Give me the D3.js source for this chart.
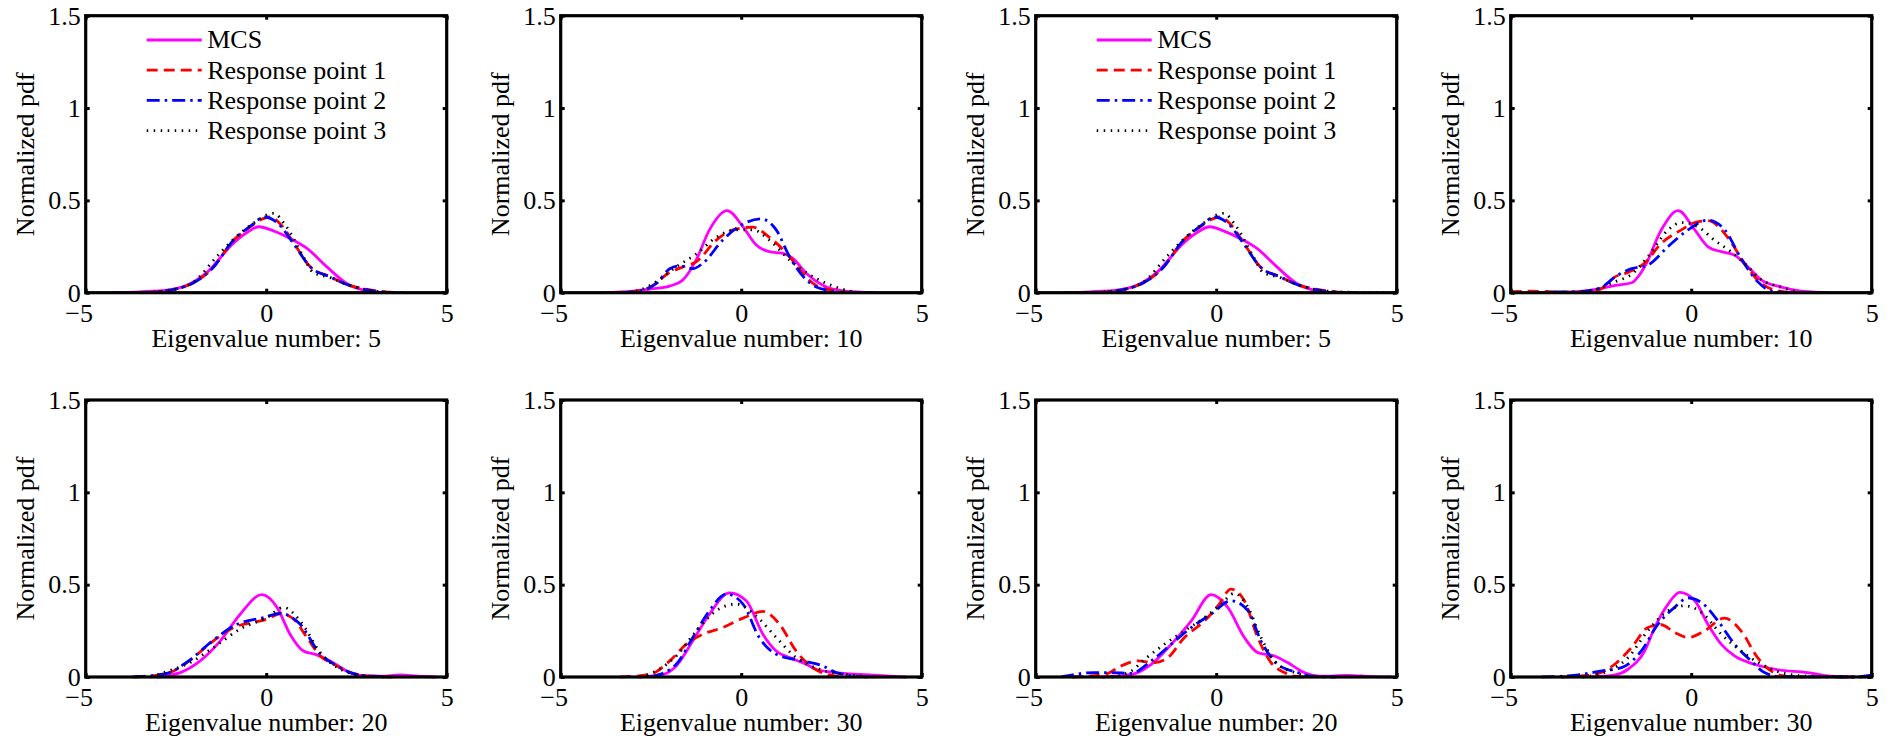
<!DOCTYPE html>
<html>
<head>
<meta charset="utf-8">
<script src="https://cdn.jsdelivr.net/npm/d3@7"></script>
<style>
  body { margin: 0; background: #fff; }
</style>
</head>
<body>
<script>
// axis settings
const xDomain = [-5, 5];
const yDomain = [0, 1.5];
const xTicks = [-5, 0, 5];
const yTicks = [0, 0.5, 1, 1.5];

const seriesNames = ['MCS', 'Response point 1', 'Response point 2', 'Response point 3'];
const eigenvalueNumbers = [5, 10, 5, 10, 20, 30, 20, 30];
const legendPanels = [0, 2];

// panel 1 - eigenvalue 5
const p1MCS = [[-4.27,0],[-3.5,0.005],[-2.75,0.014],[-2.2,0.04],[-1.64,0.11],[-0.9,0.27],[-0.5,0.33],[-0.21,0.357],[0.2,0.335],[0.66,0.294],[1.13,0.24],[1.68,0.14],[2.23,0.05],[2.79,0.01],[3.2,0]];
const p1RP1 = [[-3.67,0],[-3.0,0.005],[-2.5,0.02],[-2.0,0.055],[-1.5,0.13],[-0.9,0.285],[-0.44,0.357],[-0.1,0.40],[0.1,0.41],[0.4,0.37],[0.76,0.27],[1.22,0.14],[1.77,0.087],[2.3,0.04],[2.8,0.018],[3.3,0.005],[3.8,0]];
const p1RP2 = [[-3.5,0],[-3.0,0.005],[-2.5,0.02],[-2.0,0.055],[-1.5,0.13],[-0.9,0.285],[-0.44,0.36],[-0.05,0.41],[0.3,0.38],[0.76,0.265],[1.22,0.14],[1.77,0.085],[2.3,0.04],[2.8,0.015],[3.6,0]];
const p1RP3 = [[-3.5,0],[-2.5,0.02],[-2.0,0.06],[-1.37,0.195],[-0.9,0.29],[-0.4,0.37],[0.2,0.43],[0.55,0.36],[1.03,0.195],[1.3,0.11],[1.8,0.08],[2.3,0.04],[2.8,0.015],[3.6,0]];

// panel 2 - eigenvalue 10
const p2MCS = [[-3.82,0],[-3.0,0.008],[-2.53,0.02],[-1.98,0.036],[-1.61,0.07],[-1.24,0.18],[-0.88,0.34],[-0.39,0.444],[0.05,0.357],[0.41,0.26],[0.78,0.222],[1.15,0.213],[1.43,0.186],[1.8,0.105],[2.26,0.04],[2.81,0.01],[3.75,0]];
const p2RP1 = [[-3.55,0],[-3.0,0.006],[-2.53,0.03],[-1.98,0.11],[-1.61,0.14],[-1.24,0.168],[-0.69,0.285],[-0.23,0.34],[0.32,0.355],[0.78,0.3],[1.34,0.195],[1.7,0.105],[2.07,0.04],[2.63,0.01],[3.0,0]];
const p2RP2 = [[-3.3,0],[-2.8,0.01],[-2.35,0.05],[-1.98,0.13],[-1.7,0.145],[-1.34,0.13],[-1.06,0.16],[-0.51,0.285],[0,0.366],[0.55,0.4],[0.97,0.34],[1.34,0.195],[1.8,0.07],[2.17,0.024],[2.9,0]];
const p2RP3 = [[-3.3,0],[-2.8,0.015],[-2.35,0.06],[-1.8,0.14],[-1.24,0.21],[-0.69,0.3],[-0.14,0.34],[0.32,0.34],[0.78,0.285],[1.34,0.177],[2.07,0.078],[2.63,0.03],[3.2,0]];

// panel 3 - eigenvalue 5
const p3MCS = [[-4.27,0],[-3.5,0.005],[-2.75,0.014],[-2.2,0.04],[-1.64,0.11],[-0.9,0.27],[-0.5,0.33],[-0.18,0.357],[0.2,0.335],[0.66,0.294],[1.13,0.24],[1.68,0.14],[2.23,0.05],[2.79,0.01],[3.2,0]];
const p3RP1 = [[-3.67,0],[-3.0,0.005],[-2.5,0.02],[-2.0,0.055],[-1.5,0.13],[-0.9,0.285],[-0.44,0.357],[-0.1,0.40],[0.1,0.41],[0.4,0.37],[0.76,0.27],[1.22,0.14],[1.77,0.087],[2.3,0.04],[2.8,0.018],[3.3,0.005],[3.8,0]];
const p3RP2 = [[-3.5,0],[-3.0,0.005],[-2.5,0.02],[-2.0,0.055],[-1.5,0.13],[-0.9,0.285],[-0.44,0.36],[-0.05,0.41],[0.3,0.38],[0.76,0.265],[1.22,0.14],[1.77,0.085],[2.3,0.04],[2.8,0.015],[3.6,0]];
const p3RP3 = [[-3.5,0],[-2.5,0.02],[-2.0,0.06],[-1.37,0.195],[-0.9,0.29],[-0.4,0.37],[0.2,0.43],[0.55,0.36],[1.03,0.195],[1.3,0.11],[1.8,0.08],[2.3,0.04],[2.8,0.015],[3.6,0.003],[4.75,0]];

// panel 4 - eigenvalue 10
const p4MCS = [[-3.6,0],[-2.6,0.02],[-2.1,0.04],[-1.65,0.054],[-1.29,0.14],[-0.83,0.34],[-0.36,0.444],[0.1,0.34],[0.46,0.25],[0.83,0.222],[1.2,0.204],[1.57,0.14],[1.94,0.07],[2.5,0.03],[3.0,0.01],[3.8,0]];
const p4RP1 = [[-5,0.006],[-4.4,0.008],[-3.5,0.003],[-2.58,0.014],[-2.1,0.087],[-1.75,0.11],[-1.29,0.16],[-0.83,0.267],[-0.27,0.34],[0.1,0.38],[0.46,0.39],[1.01,0.3],[1.47,0.16],[1.94,0.05],[2.4,0.01],[2.9,0]];
const p4RP2 = [[-4.5,0],[-3.77,0.004],[-3.04,0.006],[-2.48,0.03],[-2.1,0.087],[-1.65,0.13],[-1.2,0.15],[-0.64,0.25],[-0.09,0.34],[0.46,0.393],[0.93,0.34],[1.38,0.186],[1.84,0.06],[2.21,0.01],[2.7,0]];
const p4RP3 = [[-3.2,0],[-2.6,0.02],[-2.1,0.06],[-1.65,0.1],[-1.2,0.195],[-0.64,0.34],[-0.27,0.38],[0.19,0.357],[0.64,0.285],[1.1,0.222],[1.47,0.16],[1.94,0.07],[2.5,0.03],[3.0,0]];

// panel 5 - eigenvalue 20
const p5MCS = [[-3.03,0],[-2.38,0.024],[-1.83,0.087],[-1.27,0.196],[-0.72,0.34],[-0.12,0.446],[0.3,0.377],[0.66,0.232],[1.03,0.141],[1.4,0.12],[1.77,0.087],[2.23,0.033],[2.7,0.007],[3.2,0.005],[3.71,0.011],[4.2,0.004],[4.72,0]];
const p5RP1 = [[-3.63,0],[-2.75,0.018],[-2.2,0.078],[-1.46,0.196],[-0.9,0.268],[-0.26,0.3],[0.02,0.313],[0.39,0.344],[0.76,0.313],[1.13,0.214],[1.5,0.114],[1.87,0.069],[2.33,0.024],[2.79,0.005],[3.5,0]];
const p5RP2 = [[-3.7,0],[-2.75,0.02],[-2.2,0.08],[-1.46,0.2],[-0.9,0.277],[-0.07,0.322],[0.39,0.344],[0.94,0.286],[1.5,0.123],[1.87,0.07],[2.33,0.024],[2.79,0.006],[3.5,0]];
const p5RP3 = [[-3.2,0],[-2.57,0.042],[-2.2,0.069],[-1.46,0.16],[-0.72,0.26],[0.02,0.322],[0.48,0.377],[0.94,0.304],[1.5,0.132],[2.05,0.042],[2.6,0.01],[3.2,0]];

// panel 6 - eigenvalue 30
const p6MCS = [[-2.86,0],[-2.17,0.014],[-1.8,0.06],[-1.34,0.196],[-0.88,0.34],[-0.32,0.456],[0.14,0.413],[0.6,0.232],[0.97,0.141],[1.34,0.105],[1.8,0.069],[2.07,0.042],[2.63,0.024],[3.55,0.011],[4.56,0]];
const p6RP1 = [[-3.36,0],[-2.53,0.014],[-1.98,0.087],[-1.52,0.178],[-1.06,0.232],[-0.51,0.268],[0.05,0.319],[0.6,0.355],[1.06,0.286],[1.52,0.141],[1.98,0.051],[2.44,0.011],[2.9,0]];
const p6RP2 = [[-2.5,0],[-1.8,0.069],[-1.34,0.214],[-0.88,0.359],[-0.41,0.449],[0.05,0.395],[0.5,0.214],[0.97,0.123],[1.7,0.087],[2.26,0.06],[2.63,0.024],[3.27,0.003],[3.5,0]];
const p6RP3 = [[-2.8,0],[-2.35,0.033],[-1.8,0.114],[-1.24,0.25],[-0.69,0.359],[-0.14,0.395],[0.41,0.331],[0.97,0.214],[1.52,0.105],[2.17,0.042],[3.09,0.01],[3.7,0]];

// panel 7 - eigenvalue 20
const p7MCS = [[-3.18,0],[-2.35,0.014],[-1.8,0.069],[-1.24,0.178],[-0.69,0.304],[-0.14,0.446],[0.32,0.377],[0.78,0.214],[1.15,0.132],[1.61,0.114],[1.98,0.078],[2.44,0.024],[2.9,0.004],[3.64,0.009],[4.3,0.002],[4.85,0]];
const p7RP1 = [[-4.0,0],[-3.09,0.014],[-2.63,0.06],[-2.17,0.087],[-1.7,0.078],[-1.34,0.105],[-0.88,0.214],[-0.32,0.304],[0.05,0.386],[0.41,0.476],[0.78,0.413],[1.15,0.214],[1.52,0.078],[1.89,0.024],[2.17,0.004],[2.5,0]];
const p7RP2 = [[-4.3,0],[-3.36,0.024],[-2.9,0.024],[-2.35,0.02],[-1.8,0.087],[-1.24,0.178],[-0.69,0.268],[-0.14,0.34],[0.41,0.413],[0.88,0.359],[1.24,0.196],[1.7,0.069],[2.26,0.024],[2.63,0.004],[3.3,0]];
const p7RP3 = [[-2.9,0],[-2.35,0.033],[-1.98,0.096],[-1.43,0.178],[-0.88,0.25],[-0.32,0.322],[0.14,0.395],[0.5,0.453],[0.88,0.377],[1.24,0.214],[1.7,0.069],[2.26,0.02],[2.8,0]];

// panel 8 - eigenvalue 30
const p8MCS = [[-2.76,0],[-2.12,0.011],[-1.75,0.042],[-1.29,0.141],[-1.01,0.268],[-0.64,0.395],[-0.32,0.458],[0.1,0.413],[0.46,0.286],[0.83,0.178],[1.2,0.114],[1.75,0.069],[2.3,0.042],[3.22,0.024],[3.87,0.004],[4.5,0]];
const p8RP1 = [[-3.6,0],[-2.67,0.014],[-2.12,0.069],[-1.65,0.16],[-1.2,0.268],[-0.83,0.283],[-0.46,0.241],[-0.09,0.214],[0.37,0.25],[0.92,0.319],[1.38,0.25],[1.84,0.105],[2.21,0.033],[2.67,0.003],[3.2,0]];
const p8RP2 = [[-4.14,0],[-3.04,0.014],[-2.48,0.033],[-1.93,0.051],[-1.38,0.141],[-0.92,0.286],[-0.46,0.377],[-0.09,0.428],[0.28,0.404],[0.74,0.304],[1.2,0.178],[1.66,0.087],[2.03,0.024],[2.49,0.002],[4.5,0],[5,0.01]];
const p8RP3 = [[-3.0,0],[-2.3,0.033],[-1.75,0.105],[-1.2,0.25],[-0.64,0.359],[-0.18,0.386],[0.28,0.35],[0.83,0.232],[1.38,0.141],[1.94,0.069],[2.49,0.024],[3.2,0.005],[5,0]];

const panels = [
  [p1MCS, p1RP1, p1RP2, p1RP3],
  [p2MCS, p2RP1, p2RP2, p2RP3],
  [p3MCS, p3RP1, p3RP2, p3RP3],
  [p4MCS, p4RP1, p4RP2, p4RP3],
  [p5MCS, p5RP1, p5RP2, p5RP3],
  [p6MCS, p6RP1, p6RP2, p6RP3],
  [p7MCS, p7RP1, p7RP2, p7RP3],
  [p8MCS, p8RP1, p8RP2, p8RP3]
];

// line styles (MATLAB look)
const styles = [
  { color: '#ff00ff', dash: null },
  { color: '#ff0000', dash: '11,6' },
  { color: '#0000ff', dash: '13,5,2.5,5' },
  { color: '#000000', dash: '1.5,5.5' }
];

const serif = "'Liberation Serif', 'Times New Roman', serif";
const width = 1894;
const height = 741;
const colLefts = [85.7, 560.7, 1035.7, 1510.7];
const rowTops = [15.7, 400];
const plotW = 361;
const plotH = 277;

const svg = d3.select('body')
  .append('svg')
    .attr('width', width)
    .attr('height', height)
    .attr('font-family', serif)
    .attr('font-size', 26);

const render = (data, i) => {
  const left = colLefts[i % 4];
  const top = rowTops[Math.floor(i / 4)];

  const x = d3.scaleLinear().domain(xDomain).range([0, plotW]);
  const y = d3.scaleLinear().domain(yDomain).range([plotH, 0]);

  const g = svg.append('g').attr('transform', `translate(${left},${top})`);

  const line = d3.line()
    .x(d => x(d[0]))
    .y(d => y(d[1]))
    .curve(d3.curveMonotoneX);

  data.forEach((series, s) => {
    g.append('path')
      .datum(series)
      .attr('d', line)
      .attr('fill', 'none')
      .attr('stroke', styles[s].color)
      .attr('stroke-width', 2.8)
      .attr('stroke-dasharray', styles[s].dash);
  });

  // axes with inward ticks
  const fmt = d => d < 0 ? '\u2212' + Math.abs(d) : String(d);
  const bottom = g.append('g')
    .attr('transform', `translate(0,${plotH})`)
    .call(d3.axisBottom(x).tickValues(xTicks).tickSizeInner(-4).tickSizeOuter(0).tickPadding(11).tickFormat(fmt));
  bottom.selectAll('text').attr('dx', d => d < 0 ? -7 : 0);
  g.append('g')
    .call(d3.axisTop(x).tickValues(xTicks).tickSizeInner(-4).tickSizeOuter(0).tickFormat(''));
  g.append('g')
    .call(d3.axisLeft(y).tickValues(yTicks).tickSizeInner(-4).tickSizeOuter(0).tickPadding(5).tickFormat(d3.format('')));
  g.append('g')
    .attr('transform', `translate(${plotW},0)`)
    .call(d3.axisRight(y).tickValues(yTicks).tickSizeInner(-4).tickSizeOuter(0).tickFormat(''));

  g.selectAll('.domain').remove();
  g.selectAll('g').attr('font-family', serif).attr('font-size', 26);
  g.selectAll('.tick line').attr('stroke', '#000').attr('stroke-width', 3);
  g.selectAll('.tick text').attr('fill', '#000');

  g.append('rect')
    .attr('width', plotW)
    .attr('height', plotH)
    .attr('fill', 'none')
    .attr('stroke', '#000')
    .attr('stroke-width', 3.2);

  g.append('text')
    .attr('x', plotW / 2)
    .attr('y', plotH + 54)
    .attr('text-anchor', 'middle')
    .text(`Eigenvalue number: ${eigenvalueNumbers[i]}`);

  g.append('text')
    .attr('transform', `translate(-52,${plotH / 2}) rotate(-90)`)
    .attr('text-anchor', 'middle')
    .text('Normalized pdf');

  if (legendPanels.includes(i)) {
    seriesNames.forEach((name, s) => {
      const cy = 24.3 + s * 30.2;
      g.append('line')
        .attr('x1', 61).attr('x2', 116)
        .attr('y1', cy).attr('y2', cy)
        .attr('stroke', styles[s].color)
        .attr('stroke-width', 2.8)
        .attr('stroke-dasharray', styles[s].dash);
      g.append('text')
        .attr('x', 121.5)
        .attr('y', cy + 8.5)
        .text(name);
    });
  }
};

panels.forEach(render);
</script>
</body>
</html>
